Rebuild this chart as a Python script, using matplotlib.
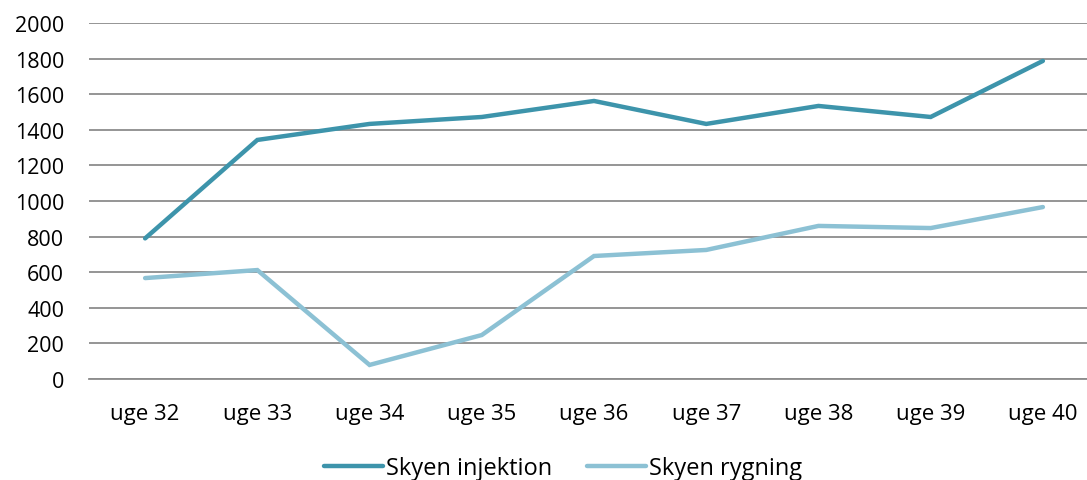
import matplotlib
matplotlib.use("Agg")
import matplotlib.pyplot as plt

weeks = ["uge 32", "uge 33", "uge 34", "uge 35", "uge 36", "uge 37", "uge 38", "uge 39", "uge 40"]
injektion = [790, 1343, 1433, 1472, 1562, 1433, 1534, 1472, 1787]
rygning = [567, 612, 79, 247, 691, 725, 860, 848, 966]
yticks = list(range(0, 2001, 200))

plt.rcParams['font.family'] = ['Open Sans', 'DejaVu Sans']

W, H = 1087, 481
fig = plt.figure(figsize=(W / 100, H / 100), dpi=100)
ax = fig.add_axes([89 / W, 1 - 380 / H, 1010 / W, 356 / H])

xs = list(range(len(weeks)))
l1, = ax.plot(xs, injektion, color="#3d94ab", lw=3.2, solid_capstyle="round", solid_joinstyle="miter", label="Skyen injektion")
l2, = ax.plot(xs, rygning, color="#8cc1d4", lw=3.2, solid_capstyle="round", solid_joinstyle="miter", label="Skyen rygning")

ax.set_xlim(-0.5, len(weeks) - 0.5)
ax.set_ylim(0, 2000)
ax.set_yticks(yticks)
ax.set_xticks(xs)
ax.set_xticklabels(weeks)
ax.yaxis.grid(True, color="#8c8c8c", lw=1.3)
ax.set_axisbelow(True)
for s in ["top", "right", "left"]:
    ax.spines[s].set_visible(False)
ax.spines["bottom"].set_color("#8c8c8c")
ax.spines["bottom"].set_linewidth(1.3)
ax.tick_params(axis="both", length=0, labelsize=15.5, colors="black")
ax.tick_params(axis="x", pad=17, labelsize=16)
ax.tick_params(axis="y", pad=18)

fig.legend(handles=[l1, l2], loc="center", bbox_to_anchor=(563 / W, 1 - 469 / H), ncol=2,
           frameon=False, fontsize=17, handlelength=2.5, handletextpad=0.1, columnspacing=1.5)

fig.savefig("out.png", dpi=100)
